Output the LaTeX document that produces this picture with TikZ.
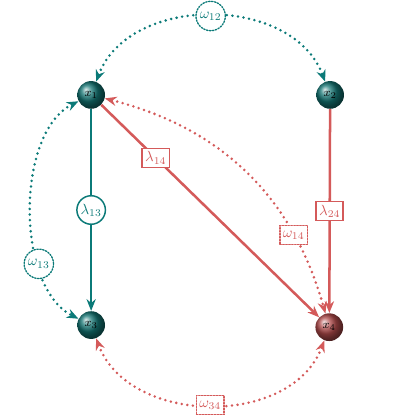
\documentclass[tikz,border=0pt]{standalone}
\usepackage{amsmath}
\usetikzlibrary{arrows.meta,positioning}
\definecolor{gTeal}{HTML}{0B7A78}
\definecolor{gRed}{HTML}{D45A5A}
\definecolor{gBall}{HTML}{137472}
\definecolor{gBallR}{HTML}{B04A4A}
\tikzset{
  var/.style      ={circle,shading=ball,ball color=gBall,minimum size=6.6mm,
                    inner sep=0pt,font=\footnotesize,text=black},
  varR/.style     ={var,ball color=gBallR},
  lamC/.style     ={circle,draw=gTeal,line width=1pt,fill=white,inner sep=1pt,
                    minimum size=6.2mm},
  lamR/.style     ={rectangle,draw=gRed,line width=1pt,fill=white,inner sep=2pt,
                    minimum height=4.6mm},
  omC/.style      ={lamC,densely dotted,line width=0.9pt,minimum size=7mm},
  omR/.style      ={lamR,densely dotted,line width=0.9pt},
  flowT/.style    ={-{Stealth[length=2.8mm,width=2.2mm]},gTeal,line width=1.7pt},
  flowR/.style    ={flowT,gRed},
  coupT/.style    ={{Stealth[length=2.8mm,width=2.2mm]}-{Stealth[length=2.8mm,width=2.2mm]},
                    gTeal,line width=1.9pt,dash pattern=on 0pt off 3.8pt,line cap=round},
  coupR/.style    ={coupT,gRed},
}
\begin{document}
\begin{tikzpicture}
\useasboundingbox (0,0) rectangle (10,10);
\node[var]  (x1) at (2.17,7.74) {$x_1$};
\node[var]  (x2) at (7.86,7.74) {$x_2$};
\node[var]  (x3) at (2.17,2.26) {$x_3$};
\node[varR] (x4) at (7.84,2.21) {$x_4$};

%% solid rates
\draw[flowT] (x1) -- (x3) node[lamC,midway] (l13) {$\lambda_{13}$};
\draw[flowR] (x1) -- (x4) node[lamR,pos=0.25] (l14) {$\lambda_{14}$};
\draw[flowR] (x2) -- (x4) node[lamR,midway] (l24) {$\lambda_{24}$};

%% dotted couplings
\draw[coupT] (x1) .. controls +(0.9,2.4) and +(-0.9,2.4) .. (x2)
  node[omC,midway] (w12) {$\omega_{12}$};
\draw[coupT] (x1) .. controls +(-1.8,-0.9) and +(-1.8,0.9) .. (x3)
  node[omC,pos=0.7] (w13) {$\omega_{13}$};
\draw[coupR] (x1) to[bend left=30] node[omR,pos=0.75] (w14) {$\omega_{14}$} (x4);
\draw[coupR] (x3) .. controls +(0.9,-2.4) and +(-0.9,-2.4) .. (x4)
  node[omR,midway] (w34) {$\omega_{34}$};
\end{tikzpicture}
\end{document}
